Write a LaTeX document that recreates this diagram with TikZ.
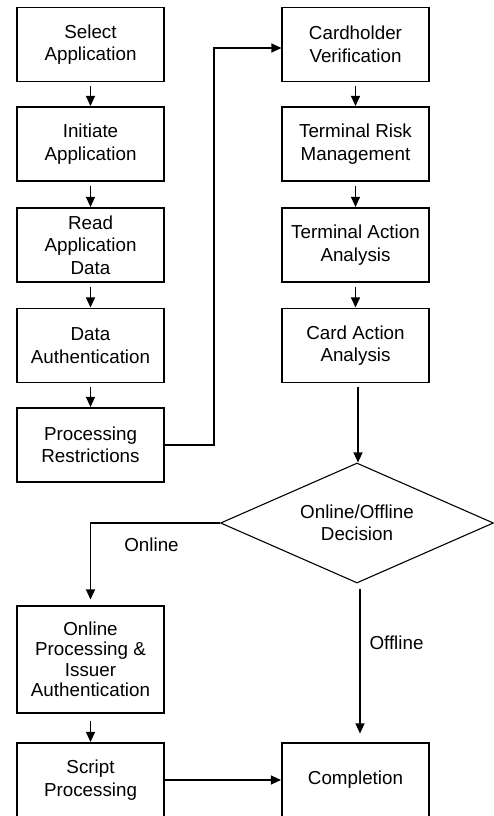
\documentclass[tikz,border=0pt]{standalone}
\usepackage{fontspec}
\setmainfont{Liberation Sans}
\usetikzlibrary{shapes.geometric,arrows.meta}
\begin{document}
\begin{tikzpicture}[x=1pt,y=-1pt,
  every node/.style={font=\fontsize{18.8}{22.5}\selectfont},
  box/.style={draw,line width=1.1pt,minimum width=147pt,minimum height=74pt,inner sep=0pt,align=center},
  conn/.style={line width=1.1pt},
  arr/.style={conn,-{Triangle[length=10pt,width=9pt]}},
  lbl/.style={inner sep=0pt}]
\clip (0,0) rectangle (494,816);
% left column
\node[box] (sa) at (90.5,44.5) {Select\\Application};
\node[box] (ia) at (90.5,144) {Initiate\\Application};
\node[box] (rd) at (90.5,245) {Read\\Application\\Data};
\node[box] (da) at (90.5,345.5) {Data\\Authentication};
\node[box] (pr) at (90.5,445) {Processing\\Restrictions};
% right column
\node[box] (cv) at (355.5,44.5) {Cardholder\\Verification};
\node[box] (tr) at (355.5,144) {Terminal Risk\\Management};
\node[box] (ta) at (355.5,245) {Terminal Action\\Analysis};
\node[box] (ca) at (355.5,345.5) {Card Action\\Analysis};
% decision
\node[draw,diamond,line width=1.1pt,inner sep=0pt,minimum width=273pt,minimum height=120pt,shape aspect=2.275,align=center] (dec) at (357,523) {Online/Offline\\Decision};
% bottom
\node[box,minimum height=107pt,font=\fontsize{18.8}{20.5}\selectfont] (op) at (90.5,659.5) {Online\\Processing \&\\Issuer\\Authentication};
\node[box] (sp) at (90.5,780) {Script\\Processing};
\node[box] (co) at (355.5,780) {Completion};
% connectors
\draw[arr,shorten <=4pt,shorten >=0.5pt] (sa) -- (ia);
\draw[arr,shorten <=4pt,shorten >=0.5pt] (ia) -- (rd);
\draw[arr,shorten <=4pt,shorten >=0.5pt] (rd) -- (da);
\draw[arr,shorten <=4pt,shorten >=0.5pt] (da) -- (pr);
\draw[arr,shorten <=4pt,shorten >=0.5pt] (cv) -- (tr);
\draw[arr,shorten <=4pt,shorten >=0.5pt] (tr) -- (ta);
\draw[arr,shorten <=4pt,shorten >=0.5pt] (ta) -- (ca);
\coordinate (j1) at (214,48);
\draw[arr] (pr.east) -| (j1) -- (j1 -| cv.west);
\coordinate (j2) at (358,382);
\draw[arr,shorten <=5pt] (j2) -- (j2 |- dec.north);
\draw[arr,shorten >=6pt] (dec.west) -| (op.north);
\node[lbl] (onl) at (151.5,545) {Online};
\coordinate (j3) at (360,583);
\draw[arr,shorten <=6pt,shorten >=9pt] (j3) -- (j3 |- co.north);
\node[lbl] (ofl) at (396.5,643) {Offline};
\draw[arr,shorten <=7pt,shorten >=0.5pt] (op) -- (sp);
\draw[arr,shorten >=0.5pt] (sp.east) -- (co.west);
\end{tikzpicture}
\end{document}
